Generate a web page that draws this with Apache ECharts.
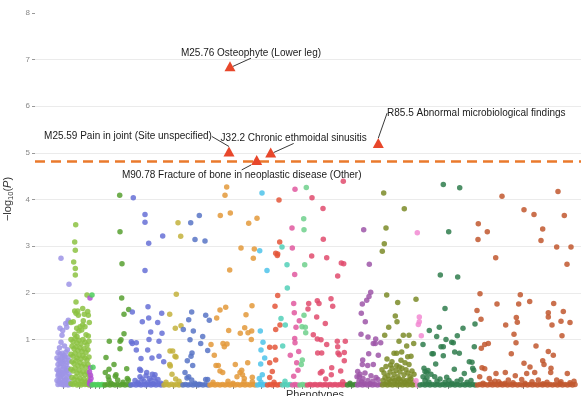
<!DOCTYPE html>
<html><head><meta charset="utf-8">
<script src="https://cdn.jsdelivr.net/npm/echarts@6/dist/echarts.min.js"></script>
<style>html,body{margin:0;padding:0;background:#fff}#c{width:581px;height:396px}</style>
</head><body><div id="c"></div>
<script>
// x = phenotype position along the axis, y = -log10(P)
const grpLavender = [[26,2.74],[34,2.18],[25,1.24],[27.7,1.19],[27,1.09],[26,0.94],[31.7,1.26],[30.7,1.34],[33.3,1.41],[33,1.37],
[23,0.72],[25,0.68],[27,0.7],[29,0.66],[31,0.73],[33,0.62],[22,0.6],[24,0.55],[26,0.58],[28,0.52],[30,0.56],[32,0.5],[34,0.54],[23,0.46],[25,0.42],[27,0.48],[29,0.4],[31,0.44],[33,0.38],[22,0.35],[24,0.32],[26,0.3],[28,0.36],[30,0.28],[32,0.33],[34,0.25],[23,0.22],[25,0.2],[27,0.24],[29,0.18],[31,0.15],[33,0.2],[22,0.12],[24,0.1],[26,0.14],[28,0.08],[30,0.11],[32,0.06],[34,0.1],[23,0.03],[25,0.05],[27,0.03],[29,0.02],[31,0.04],[33,0.02],[35,0.03],[24.5,0.82],[29.5,0.86],[32.5,0.78],[27.5,0.62],[30,0.62],[25.5,0.5],[31.5,0.32],[28.5,0.28],[23.5,0.26]];
const grpYellowGreen = [[40.7,3.46],[39.7,3.09],[40.3,2.91],[38.7,2.66],[40.3,2.52],[40.3,2.38],[52,1.95],[41,1.8],[43.3,1.52],[41,1.56],[49.3,1.54],[52.7,1.6],[53.3,1.52],[47.7,1.31],[45,1.27],[41.7,1.24],[50,1.27],[39.7,1.61],[42.7,1.61],[47.7,1.66],[36,1.36],[38.3,1.38],[54.3,1.36],[48.3,1.4],[46.7,1.2],[44,1.18],[53.3,1.07],[39.7,1.11],[42,1.06],[51,1.1],
[36,1.0],[38,0.95],[40,1.02],[42,0.92],[44,0.98],[46,0.9],[48,1.0],[50,0.94],[52,0.88],[54,0.96],
[37,0.85],[39,0.8],[41,0.84],[43,0.76],[45,0.82],[47,0.74],[49,0.8],[51,0.72],[53,0.78],
[36,0.68],[38,0.64],[40,0.7],[42,0.6],[44,0.66],[46,0.58],[48,0.65],[50,0.6],[52,0.56],[54,0.62],
[37,0.52],[39,0.48],[41,0.54],[43,0.44],[45,0.5],[47,0.42],[49,0.47],[51,0.4],[53,0.46],
[36,0.36],[38,0.32],[40,0.38],[42,0.28],[44,0.34],[46,0.26],[48,0.31],[50,0.24],[52,0.3],[54,0.22],
[37,0.18],[39,0.14],[41,0.2],[43,0.12],[45,0.16],[47,0.1],[49,0.15],[51,0.08],[53,0.12],
[36,0.05],[38,0.03],[40,0.06],[42,0.02],[44,0.04],[46,0.02],[48,0.05],[50,0.03],[52,0.04],[54,0.02]];
const grpMagenta = [[55,1.89],[55.5,0.39],[54.5,0.3],[55.5,0.23],[56,0.16],[55,0.1],[54.5,0.05],[56,0.02]];
const grpBrightGreen = [[57,1.95],[58,0.4],[57,0.02],[59,0.03],[61,0.02],[63,0.03],[65,0.02],[67,0.03],[69,0.02]];
const grpGreen = [[84.7,4.09],[85,3.31],[87,2.62],[86.7,1.89],[93.7,1.64],[89,1.54],[89,1.12],[74.3,0.96],[85,0.96],[86,0.99],[85,0.8],[71,0.61],[79,0.46],[74,0.36],[91.7,0.37],[70.3,0.29],[80.3,0.21],[92.3,0.16],[93.3,0.13],[82.7,0.13],[73.3,0.2],[81,0.24],[74,0.13],[76,0.06],[88,0.08],
[70,0.02],[72.5,0.03],[75,0.02],[77.5,0.03],[80,0.02],[82.5,0.03],[85,0.02],[87.5,0.03],[90,0.02],[92.5,0.03],[95,0.02]];
const grpPeriwinkle = [[98.3,4.04],[110,3.68],[110,3.51],[113.7,3.06],[127.7,3.22],[110,2.48],[113,1.7],[97.3,1.59],[126.7,1.56],[113.7,1.46],[107.3,1.38],[122.7,1.36],[115.7,1.16],[127,1.13],[96.3,0.95],[101.3,0.93],[97.3,0.91],[114,1.0],[124,0.96],[101.3,0.77],[112.7,0.77],[106,0.59],[124,0.64],[117,0.6],[128.7,0.52],[104.7,0.36],[105.7,0.33],[111.7,0.29],[117.3,0.25],[105,0.2],
[100,0.12],[103,0.08],[107,0.15],[109,0.1],[113,0.07],[116,0.12],[119,0.18],[121,0.09],[123,0.14],[126,0.06],[111,0.22],[104,0.05],[120,0.24],[114.5,0.16],[118,0.05],
[96,0.02],[98.5,0.03],[101,0.02],[103.5,0.03],[106,0.02],[108.5,0.03],[111,0.02],[113.5,0.03],[116,0.02],[118.5,0.03],[121,0.02],[123.5,0.03],[126,0.02],[128.5,0.03]];
const grpOliveYellow = [[143,3.5],[145.7,3.21],[141.3,1.97],[134.7,1.54],[146,1.29],[140.3,1.24],[135,0.75],[137.7,0.75],[140,0.64],[141,0.62],[134.7,0.46],[135.3,0.43],[137,0.25],[140.7,0.15],[131,0.08],[144,0.1],
[129,0.02],[131.5,0.03],[134,0.02],[136.5,0.04],[139,0.02],[141.5,0.03],[144,0.02],[146.5,0.03]];
const grpBlue = [[155.7,3.5],[164.3,3.66],[160,3.14],[170,3.11],[156.7,1.59],[153.7,1.42],[148.3,1.21],[158.3,1.18],[170.7,1.52],[174.3,1.41],[167.7,1.06],[165.7,0.91],[155,0.99],[172.7,0.76],[157,0.71],[156,0.64],[152.3,0.54],[157.7,0.44],[150,0.29],[153.7,0.2],[152,0.17],[156.7,0.13],[170.7,0.14],[172.7,0.14],[160,0.06],[164,0.04],
[148,0.02],[150.5,0.03],[153,0.02],[155.5,0.03],[158,0.02],[160.5,0.03],[163,0.02],[165.5,0.03],[168,0.02],[170.5,0.03],[173,0.02]];
const grpOrange = [[191.7,4.27],[190,4.09],[185.3,3.66],[195.3,3.71],[213.7,3.49],[222,3.6],[206,2.96],[219.3,2.94],[218.3,2.74],[194.7,2.49],[190.7,1.69],[185,1.63],[181.7,1.46],[217,1.72],[211,1.53],[209.7,1.25],[216.7,1.18],[205.3,1.13],[213,1.14],[216.3,1.0],[193.7,1.19],[176,0.89],[188,0.91],[192,0.9],[189.3,0.84],[179.3,0.66],[212.7,0.5],[200.3,0.46],[181,0.44],[183.3,0.44],[185,0.32],[187.7,0.29],[206.7,0.34],[205,0.29],[202,0.2],[209,0.09],[217.3,0.19],[217.3,0.09],[207.5,0.24],[209.3,0.16],[193,0.1],[178,0.08],[198,0.06],
[175,0.02],[177.5,0.03],[180,0.02],[182.5,0.03],[185,0.02],[187.5,0.03],[190,0.02],[192.5,0.03],[195,0.02],[197.5,0.03],[200,0.02],[202.5,0.03],[205,0.02],[207.5,0.03],[210,0.02],[212.5,0.03],[215,0.02],[217.5,0.03],[220,0.02]];
const grpSky = [[227,4.14],[224.7,2.9],[232,2.48],[225.3,1.18],[228,0.94],[226,0.77],[229.7,0.6],[225.7,0.47],[224.3,0.16],[227.3,0.24],[226,0.08],
[222.5,0.02],[225,0.03],[227.5,0.02],[230,0.03]];
const grpRedOrange = [[244,3.99],[244.7,3.09],[240.7,2.85],[242.7,2.83],[242.3,2.8],[242.7,1.94],[240,1.71],[245,1.31],[240.7,1.21],[234.7,0.83],[240,0.83],[240.7,0.56],[234.7,0.5],[237.3,0.31],[234.7,0.18],[239,0.08],
[232.5,0.02],[235,0.03],[237.5,0.02],[240,0.03],[242.5,0.02],[245,0.03]];
const grpTeal = [[247,2.98],[252,2.6],[252.3,2.1],[246,1.45],[250.3,1.31],[247.7,0.86],[250,0.1],
[247.5,0.02],[250,0.03],[252.5,0.02],[255,0.03]];
const grpPink = [[260,4.22],[257,3.39],[257.3,2.96],[259.7,2.39],[258.7,1.77],[259.3,1.57],[261,1.26],[264.3,1.4],[259.7,1.02],[260,0.93],[255.3,0.66],[263.7,0.74],[261.7,0.5],[263,0.34],[258.7,0.21],
[257.5,0.02],[260,0.03],[262.5,0.02]];
const grpLightGreen = [[271.3,4.26],[268.7,3.59],[269,3.35],[269.7,2.6],[269,1.52],[270.3,1.26],[270.7,1.14],[267,1.27],[267.3,0.56],[266.3,0.46],
[265,0.02],[267.5,0.03],[270,0.02]];
const grpCrimson = [[277,4.04],[288,3.81],[288.3,3.15],[276.7,2.79],[291.7,2.75],[306.3,2.64],[308.7,2.62],[302.7,2.36],[308.3,4.39],[273.7,1.77],[273,1.65],[282.3,1.83],[284,1.77],[296,1.87],[297.7,1.71],[281.7,1.48],[290.3,1.34],[278.3,1.1],[282.3,1.01],[286,0.99],[291.7,0.89],[282.7,0.71],[286.7,0.71],[302.3,0.96],[302.7,0.84],[303,0.71],[304.3,0.67],[310.3,0.96],[309.3,0.72],[309.3,0.54],[296.7,0.39],[305.7,0.32],[287,0.31],[285.3,0.28],[296.3,0.24],[290.7,0.15],[307.7,0.09],
[272.5,0.02],[275,0.03],[277.5,0.02],[280,0.03],[282.5,0.02],[285,0.03],[287.5,0.02],[290,0.03],[292.5,0.02],[295,0.03],[297.5,0.02],[300,0.03],[302.5,0.02],[305,0.03],[307.5,0.02],[310,0.03]];
const grpDarkGreen = [[315,0.06],[312.5,0.02],[315,0.03],[317.5,0.02],[320,0.03]];
const grpPurple = [[328.7,3.35],[334.3,2.61],[335.7,2.01],[334,1.92],[331.7,1.84],[327.3,1.76],[326.3,1.56],[330.3,1.38],[326,1.11],[333,1.05],[340.7,1.01],[340.3,0.91],[338.3,0.91],[345.7,0.93],[343.3,0.66],[333.7,0.69],[327.7,0.56],[327.3,0.46],[322.7,0.31],[324.3,0.2],[332.7,0.44],[338.3,0.46],[326.7,0.09],
[322,0.2],[325,0.25],[328,0.16],[330,0.28],[333,0.12],[336,0.22],[338,0.1],[341,0.18],[324,0.1],[329,0.06],[335,0.05],[343,0.14],
[322.5,0.02],[325,0.03],[327.5,0.02],[330,0.03],[332.5,0.02],[335,0.03],[337.5,0.02],[340,0.03],[342.5,0.02],[345,0.03]];
const grpOlive = [[348.7,4.14],[369.3,3.8],[351,3.39],[349.3,3.05],[347.3,2.89],[351.7,1.95],[362.7,1.79],[381,1.86],[360.3,1.5],[362,1.38],[353.7,1.26],[368.3,1.09],[374,1.09],[349.7,1.09],[364,0.96],[371.7,0.86],[378.7,0.91],[359,0.7],[361.7,0.7],[366.7,0.73],[372.7,0.63],[376,0.64],[355.7,0.45],[361.7,0.44],[364.3,0.41],
[347,0.35],[349,0.28],[351,0.42],[353,0.22],[355,0.3],[357,0.38],[359,0.25],[361,0.33],[363,0.2],[365,0.3],[367,0.38],[369,0.24],[371,0.35],[373,0.28],[375,0.2],[377,0.32],[379,0.25],[348,0.12],[350,0.18],[352,0.08],[354,0.14],[356,0.1],[358,0.16],[360,0.12],[362,0.09],[364,0.15],[366,0.1],[368,0.14],[370,0.08],[372,0.12],[374,0.1],[376,0.15],[378,0.08],[357,0.52],[366,0.55],[370,0.5],[352,0.58],[374,0.46],
[347.5,0.02],[350,0.03],[352.5,0.02],[355,0.03],[357.5,0.02],[360,0.03],[362.5,0.02],[365,0.03],[367.5,0.02],[370,0.03],[372.5,0.02],[375,0.03],[377.5,0.02],[380,0.03]];
const grpLightPink = [[382.3,3.29],[384.3,1.48],[384.3,1.38],[383.3,1.32],[386.3,1.08],[381,0.11],[382.5,0.02]];
const grpForest = [[408.3,4.32],[424.7,4.25],[413.7,3.31],[405.3,2.38],[422.7,2.34],[410,1.66],[404.3,1.26],[394.3,1.19],[428,1.24],[422.3,1.08],[401.7,1.06],[411,1.0],[416.7,0.94],[418.3,0.93],[408.3,0.84],[406,0.84],[388,0.89],[397,0.69],[398.3,0.69],[419.7,0.73],[424.3,0.7],[408.3,0.65],[439.3,0.84],[440,1.33],[434.3,0.52],[437,0.51],[437.7,0.38],[438.7,0.34],[400.7,0.47],[390,0.31],[391.7,0.29],[399.7,0.2],[411.7,0.19],[419.3,0.36],[429.3,0.27],
[388,0.2],[390,0.12],[392,0.18],[394,0.08],[396,0.25],[402,0.1],[405,0.15],[410,0.08],[414,0.12],[417,0.06],[422,0.1],[426,0.14],[432,0.08],[436,0.12],[389,0.38],[393,0.33],
[385,0.02],[387.5,0.03],[390,0.02],[392.5,0.03],[395,0.02],[397.5,0.03],[400,0.02],[402.5,0.03],[405,0.02],[407.5,0.03],[410,0.02],[412.5,0.03],[415,0.02],[417.5,0.03],[420,0.02],[422.5,0.03],[425,0.02],[427.5,0.03],[430,0.02],[432.5,0.03],[435,0.02],[437.5,0.03],[440,0.02]];
const grpBrown = [[467,4.07],[523,4.17],[489,3.78],[499,3.68],[529.3,3.66],[443.3,3.48],[452.3,3.31],[443,3.14],[507.7,3.37],[506,3.12],[521.7,2.98],[536,2.98],[460.7,2.75],[532,2.61],[445,1.98],[485.3,1.96],[462,1.76],[483.7,1.76],[494.7,1.81],[518.7,1.77],[442,1.62],[446,1.43],[470.7,1.31],[481.3,1.47],[482.3,1.37],[513.3,1.57],[513.3,1.48],[528.3,1.6],[517,1.31],[526,1.39],[535,1.36],[527,1.08],[479,1.11],[481,0.93],[446.3,0.81],[449.7,0.89],[453.3,0.91],[501,0.86],[476.3,0.69],[513.3,0.74],[518.3,0.66],[489,0.49],[495,0.41],[507.7,0.54],[509,0.46],[447,0.39],[449.7,0.37],[461,0.27],[470.3,0.29],[444.7,0.2],[480.3,0.22],[491.7,0.27],[499.7,0.29],[516,0.38],[515.7,0.29],[532.3,0.27],[454.3,0.16],[463.7,0.09],[473.3,0.13],[486.7,0.14],[503.3,0.13],[521.7,0.13],[526,0.09],
[448,0.06],[456,0.08],[466,0.05],[478,0.07],[490,0.06],[497,0.09],[508,0.05],[512,0.08],[525,0.06],[535,0.07],[539,0.1],[460,0.1],[470,0.06],
[442.5,0.02],[445,0.03],[447.5,0.02],[450,0.03],[452.5,0.02],[455,0.03],[457.5,0.02],[460,0.03],[462.5,0.02],[465,0.03],[467.5,0.02],[470,0.03],[472.5,0.02],[475,0.03],[477.5,0.02],[480,0.03],[482.5,0.02],[485,0.03],[487.5,0.02],[490,0.03],[492.5,0.02],[495,0.03],[497.5,0.02],[500,0.03],[502.5,0.02],[505,0.03],[507.5,0.02],[510,0.03],[512.5,0.02],[515,0.03],[517.5,0.02],[520,0.03],[522.5,0.02],[525,0.03],[527.5,0.02],[530,0.03],[532.5,0.02],[535,0.03],[537.5,0.02],[540,0.03]];

const hitLabels = ['M25.76 Osteophyte (Lower leg)', 'M25.59 Pain in joint (Site unspecified)', 'J32.2 Chronic ethmoidal sinusitis', 'M90.78 Fracture of bone in neoplastic disease (Other)', 'R85.5 Abnormal microbiological findings'];
const hitX = [195, 194, 235.7, 221.7, 343.3];
const hitY = [6.86, 5.03, 5.01, 4.85, 5.21];
const threshold = 4.83;
const yTickValues = [1, 2, 3, 4, 5, 6, 7, 8];
const xTickPositions = [28, 44, 55, 60, 64, 68, 82, 111, 138, 161, 198, 226, 238, 249, 259, 267, 275, 293, 316, 333, 363, 382, 413, 488];

// styling
const groups = [grpLavender, grpYellowGreen, grpMagenta, grpBrightGreen, grpGreen, grpPeriwinkle, grpOliveYellow, grpBlue, grpOrange, grpSky, grpRedOrange, grpTeal, grpPink, grpLightGreen, grpCrimson, grpDarkGreen, grpPurple, grpOlive, grpLightPink, grpForest, grpBrown];
const colors = ['#9d94e6','#8cc242','#b350d4','#4ccf5a','#57a030','#6670d6','#c3b23c','#5874c6','#e3993a','#4ec3ea','#e4563a','#52d0b9','#e0589f','#6fd08c','#e04b6d','#3e8a35','#9e56a8','#7b8b28','#f28ad2','#2f7c4c','#c1572e'];
const labelOffsets = [[21,-13],[-101,-15],[23,-14],[-15,15],[98,-30]];

const series = groups.map((g, i) => ({
  type: 'scatter', data: g, symbolSize: 5.5, silent: true,
  itemStyle: { color: colors[i], opacity: 0.85 }, z: 2
}));
series[0].markLine = {
  silent: true, symbol: 'none', label: { show: false },
  lineStyle: { color: '#ea7a2c', type: [10, 6], width: 2.6 },
  data: [{ yAxis: threshold }], z: 3
};
series.push({
  type: 'scatter', z: 5, silent: true,
  symbol: 'triangle', symbolSize: [11, 10],
  itemStyle: { color: '#e8472b', opacity: 1 },
  data: hitLabels.map((n, i) => ({ name: n, value: [hitX[i], hitY[i]] })),
  label: { show: true, position: 'inside', formatter: p => p.name, color: '#1a1a1a', fontSize: 10, fontFamily: 'Liberation Sans, Arial, sans-serif' },
  labelLine: { show: true, lineStyle: { color: '#222', width: 0.9 } },
  labelLayout: p => ({ dx: labelOffsets[p.dataIndex][0], dy: labelOffsets[p.dataIndex][1], hideOverlap: false })
});

const chart = echarts.init(document.getElementById('c'), null, { renderer: 'canvas' });
chart.setOption({
  animation: false,
  backgroundColor: '#fff',
  grid: { left: 35, right: 0, top: 0, bottom: 10, outerBoundsMode: 'none', containLabel: false },
  xAxis: {
    type: 'value', min: 0, max: 546,
    name: 'Phenotypes', nameLocation: 'middle', nameGap: 3,
    nameTextStyle: { fontSize: 11, color: '#333', fontFamily: 'Liberation Sans, Arial, sans-serif', padding: [0, 0, 0, 14] },
    axisLine: { show: false },
    axisLabel: { show: false },
    axisTick: { show: true, customValues: xTickPositions, length: 3, lineStyle: { color: '#888' } },
    splitLine: { show: false }
  },
  yAxis: {
    type: 'value', min: 0, max: 8.28, interval: 0.5,
    name: '{a|−log}{s|10}{a|(}{i|P}{a|)}', nameLocation: 'middle', nameGap: 12,
    nameTextStyle: {
      padding: [0, 12, 0, 0],
      rich: {
        a: { fontSize: 11, color: '#333', lineHeight: 14, fontFamily: 'Liberation Sans, Arial, sans-serif' },
        s: { fontSize: 7.5, color: '#333', verticalAlign: 'bottom', fontFamily: 'Liberation Sans, Arial, sans-serif' },
        i: { fontSize: 11, color: '#333', fontStyle: 'italic', lineHeight: 14, fontFamily: 'Liberation Sans, Arial, sans-serif' }
      }
    },
    axisLine: { show: false },
    axisLabel: { customValues: yTickValues, fontSize: 8, color: '#888', margin: 5, fontFamily: 'Liberation Sans, Arial, sans-serif' },
    axisTick: { show: true, customValues: yTickValues, length: 3, lineStyle: { color: '#999' } },
    splitLine: { show: true, showMaxLine: false, lineStyle: { color: '#ebebeb', width: 1 } }
  },
  series: series
});
</script></body></html>
